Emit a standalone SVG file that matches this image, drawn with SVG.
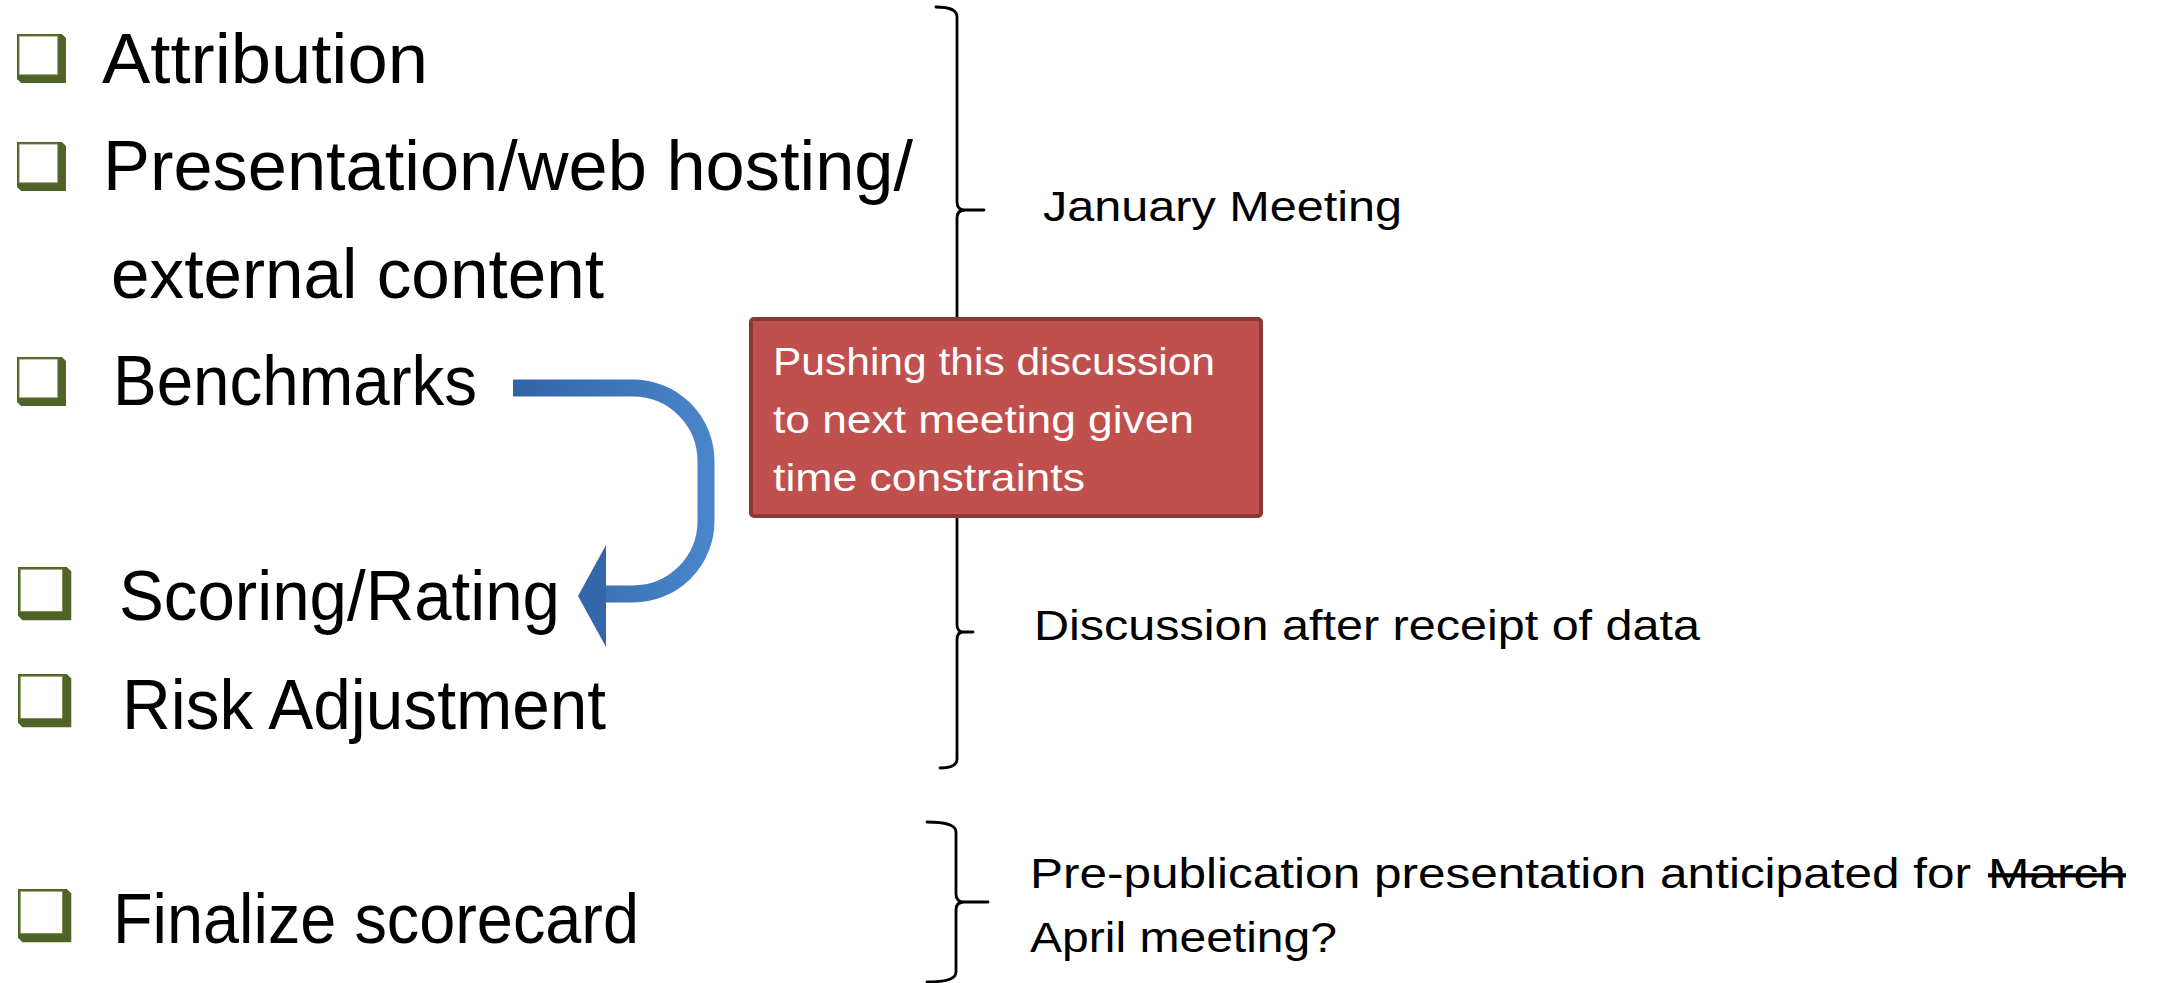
<svg xmlns="http://www.w3.org/2000/svg" width="2159" height="983" viewBox="0 0 2159 983">
<style>
.item{font-family:"Liberation Sans",Arial,sans-serif;font-size:71px;fill:#000}
.note{font-family:"Liberation Sans",Arial,sans-serif;font-size:42px;fill:#000}
.boxtxt{font-family:"Liberation Sans",Arial,sans-serif;font-size:39px;fill:#fff}
.brace{fill:none;stroke:#000;stroke-width:2.8;stroke-linecap:round;stroke-linejoin:round}
.strike{text-decoration:line-through}
</style>
<defs>
<g id="chk">
<path d="M0,0 H44 L48,4 V48 H4 L0,44 Z" fill="#4F6228"/>
<rect x="2" y="2" width="38" height="38" fill="#fff" stroke="#77904A" stroke-width="0.8"/>
</g>
<linearGradient id="blue" gradientUnits="userSpaceOnUse" x1="513" y1="0" x2="715" y2="0">
<stop offset="0" stop-color="#3263A6"/>
<stop offset="1" stop-color="#4A86CC"/>
</linearGradient>
</defs>
<rect width="2159" height="983" fill="#fff"/>

<g id="braces">
<path class="brace" d="M936,7 Q957,7 957,17 L957,202 Q957,210 965,210 L984,210 M965,210 Q957,210 957,218 L957,624 Q957,632 963,632 L973,632 M963,632 Q957,632 957,640 L957,759 Q957,768 940,768"/>
<path class="brace" d="M927,822 Q956,822 956,832 L956,894 Q956,902 964,902 L988,902 M964,902 Q956,902 956,910 L956,972 Q956,982 927,982"/>
</g>

<g id="item-attribution">
<use href="#chk" transform="translate(17,34) scale(1.02)"/>
<text class="item" x="102" y="83" textLength="326" lengthAdjust="spacingAndGlyphs">Attribution</text>
</g>
<g id="item-presentation">
<use href="#chk" transform="translate(17,142) scale(1.02)"/>
<text class="item" x="103" y="190" textLength="810" lengthAdjust="spacingAndGlyphs">Presentation/web hosting/</text>
<text class="item" x="111" y="298" textLength="493" lengthAdjust="spacingAndGlyphs">external content</text>
</g>
<g id="item-benchmarks">
<use href="#chk" transform="translate(17,357) scale(1.02)"/>
<text class="item" x="113" y="405" textLength="364" lengthAdjust="spacingAndGlyphs">Benchmarks</text>
</g>
<g id="item-scoring">
<use href="#chk" transform="translate(18,567) scale(1.11)"/>
<text class="item" x="119" y="620" textLength="441" lengthAdjust="spacingAndGlyphs">Scoring/Rating</text>
</g>
<g id="item-risk">
<use href="#chk" transform="translate(18,674) scale(1.11)"/>
<text class="item" x="122" y="729" textLength="484" lengthAdjust="spacingAndGlyphs">Risk Adjustment</text>
</g>
<g id="item-finalize">
<use href="#chk" transform="translate(18,889) scale(1.11)"/>
<text class="item" x="113" y="943" textLength="526" lengthAdjust="spacingAndGlyphs">Finalize scorecard</text>
</g>

<g id="note-january">
<text class="note" x="1043" y="221" textLength="359" lengthAdjust="spacingAndGlyphs">January Meeting</text>
</g>
<g id="note-discussion">
<text class="note" x="1034" y="640" textLength="666" lengthAdjust="spacingAndGlyphs">Discussion after receipt of data</text>
</g>
<g id="note-prepub">
<text class="note" x="1030" y="888" textLength="941" lengthAdjust="spacingAndGlyphs">Pre-publication presentation anticipated for</text>
<text class="note strike" x="1988" y="888" textLength="138" lengthAdjust="spacingAndGlyphs">March</text>
<text class="note" x="1030" y="952" textLength="307" lengthAdjust="spacingAndGlyphs">April meeting?</text>
</g>

<g id="connectors">
<path d="M513,388 H633 A73,73 0 0 1 706,461 V521 A73,73 0 0 1 633,594 H604" fill="none" stroke="url(#blue)" stroke-width="17"/>
<polygon points="606,545 578,596 606,647" fill="#3466AA"/>
</g>

<g id="box-pushing">
<rect x="751" y="319" width="510" height="197" rx="3" fill="#C0504D" stroke="#8C3836" stroke-width="4"/>
<text class="boxtxt" x="773" y="375" textLength="442" lengthAdjust="spacingAndGlyphs">Pushing this discussion</text>
<text class="boxtxt" x="773" y="433" textLength="421" lengthAdjust="spacingAndGlyphs">to next meeting given</text>
<text class="boxtxt" x="773" y="491" textLength="312" lengthAdjust="spacingAndGlyphs">time constraints</text>
</g>
</svg>
